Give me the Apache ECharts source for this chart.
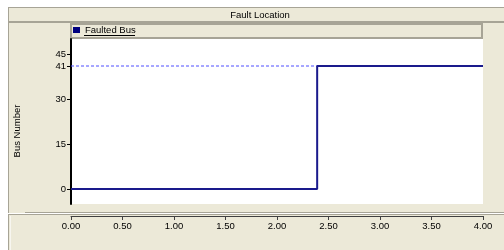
<!DOCTYPE html>
<html>
<head>
<meta charset="utf-8">
<script src="https://cdn.jsdelivr.net/npm/echarts@6/dist/echarts.min.js"></script>
<style>
  html, body { margin: 0; padding: 0; background: #fff; }
  #chart { width: 504px; height: 250px; }
</style>
</head>
<body>
<div id="chart"></div>
<script>
// data
var seriesName = 'Faulted Bus';
var timeValues = [0, 2.39, 2.39, 4];   // seconds
var busValues = [0, 0, 41, 41];        // bus number
var refTime = [0, 2.39];               // dashed guide at the faulted bus
var refBus = [41, 41];
var yTickValues = [0, 15, 30, 41, 45];

var beige = '#ECE9D8';
var edge = '#A7A496';
var font = 'Arial, "Liberation Sans", sans-serif';

function pairs(xs, ys) {
  var out = [];
  for (var i = 0; i < xs.length; i++) out.push([xs[i], ys[i]]);
  return out;
}

var myChart = echarts.init(document.getElementById('chart'), null, { renderer: 'canvas' });

var option = {
  backgroundColor: beige,
  animation: false,
  textStyle: { fontFamily: font },
  grid: {
    left: 71, right: 21, top: 39, bottom: 46,
    show: true, backgroundColor: '#fff', borderWidth: 0
  },
  legend: {
    data: [{ name: seriesName, icon: 'rect' }],
    left: 68, top: 20,
    itemWidth: 7, itemHeight: 6,
    textStyle: { fontSize: 9.5, color: '#000', fontFamily: font }
  },
  xAxis: {
    type: 'value',
    min: 0, max: 4, interval: 0.5,
    offset: 12,
    axisLine: { show: true, onZero: false, lineStyle: { color: '#404040', width: 1 } },
    axisTick: { show: true, length: 4, lineStyle: { color: '#404040' } },
    axisLabel: {
      fontSize: 9.5, color: '#000', margin: 5, fontFamily: font,
      formatter: function (v) { return v.toFixed(2); }
    },
    splitLine: { show: false }
  },
  yAxis: {
    type: 'value',
    min: -5, max: 50,
    axisLine: { show: true, onZero: false, lineStyle: { color: '#000', width: 2 } },
    axisTick: { show: true, length: 4, customValues: yTickValues, lineStyle: { color: '#000' } },
    axisLabel: { fontSize: 9.5, color: '#000', margin: 5, fontFamily: font, customValues: yTickValues },
    splitLine: { show: false }
  },
  series: [
    {
      name: 'guide',
      type: 'line',
      data: pairs(refTime, refBus),
      showSymbol: false,
      silent: true,
      lineStyle: { color: '#4F4FFF', width: 1, type: [3, 2] },
      z: 1
    },
    {
      name: seriesName,
      type: 'line',
      data: pairs(timeValues, busValues),
      showSymbol: false,
      color: '#00007F',
      lineStyle: { color: '#1A1A8C', width: 2 },
      z: 3
    }
  ],
  graphic: [
    // white margins
    { type: 'rect', shape: { x: 0, y: 0, width: 504, height: 7 }, style: { fill: '#fff' }, silent: true },
    { type: 'rect', shape: { x: 0, y: 0, width: 8, height: 250 }, style: { fill: '#fff' }, silent: true },
    // title bar
    { type: 'rect', shape: { x: 8.5, y: 7.5, width: 500, height: 14 }, style: { fill: beige, stroke: edge, lineWidth: 1 }, silent: true },
    { type: 'line', shape: { x1: 8, y1: 22, x2: 504, y2: 22 }, style: { stroke: edge, lineWidth: 2 }, silent: true },
    { type: 'text', x: 260, y: 15, style: { text: 'Fault Location', font: '9.5px ' + font, fill: '#000', textAlign: 'center', textVerticalAlign: 'middle' }, silent: true },
    // left border of upper panel
    { type: 'line', shape: { x1: 8.5, y1: 7, x2: 8.5, y2: 213 }, style: { stroke: edge, lineWidth: 1 }, silent: true },
    // legend box
    { type: 'rect', z: -1, shape: { x: 71, y: 24, width: 411, height: 14 }, style: { fill: beige, stroke: edge, lineWidth: 2 }, silent: true },
    { type: 'line', shape: { x1: 84, y1: 35.5, x2: 135, y2: 35.5 }, style: { stroke: '#000', lineWidth: 1 }, silent: true },
    // y axis name
    { type: 'text', x: 17, y: 131, rotation: Math.PI / 2, style: { text: 'Bus Number', font: '9.5px ' + font, fill: '#000', textAlign: 'center', textVerticalAlign: 'middle' }, silent: true },
    // separator between plot and x-axis panel
    { type: 'line', shape: { x1: 25, y1: 212.5, x2: 504, y2: 212.5 }, style: { stroke: edge, lineWidth: 1 }, silent: true },
    { type: 'line', shape: { x1: 8, y1: 213.5, x2: 504, y2: 213.5 }, style: { stroke: '#fff', lineWidth: 1 }, silent: true },
    { type: 'line', shape: { x1: 8, y1: 214.5, x2: 504, y2: 214.5 }, style: { stroke: edge, lineWidth: 1 }, silent: true },
    { type: 'line', shape: { x1: 8.5, y1: 214, x2: 8.5, y2: 250 }, style: { stroke: edge, lineWidth: 1 }, silent: true },
    { type: 'line', shape: { x1: 10.5, y1: 216, x2: 10.5, y2: 250 }, style: { stroke: '#F7F6F0', lineWidth: 1 }, silent: true }
  ]
};

if (option && typeof option === 'object') {
  myChart.setOption(option, true);
}
</script>
</body>
</html>
